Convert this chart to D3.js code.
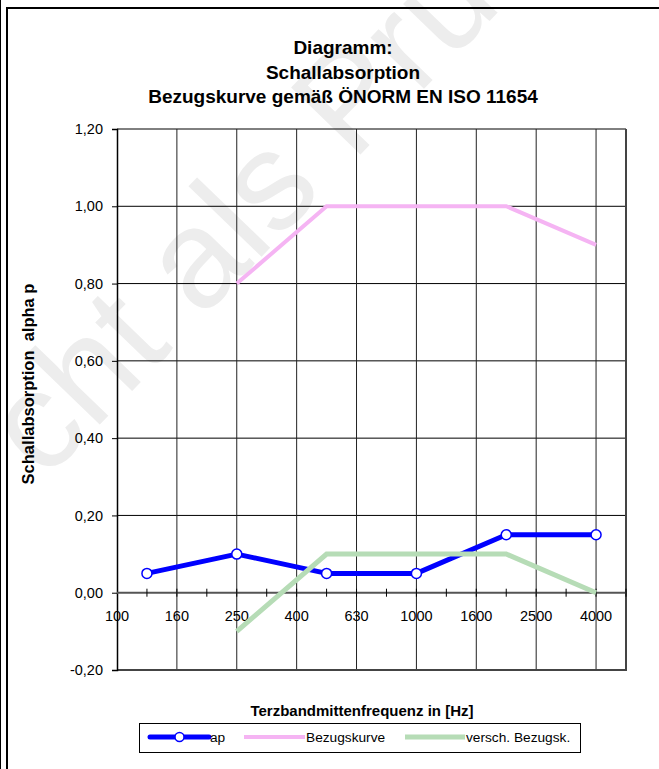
<!DOCTYPE html>
<html><head><meta charset="utf-8">
<script src="https://cdn.jsdelivr.net/npm/d3@7"></script>
<style>
html,body{margin:0;padding:0;background:#fff;}
svg{display:block;font-family:"Liberation Sans",Arial,sans-serif;}
</style></head>
<body>
<svg id="c" width="659" height="769"></svg>
<script>
const bands = [100,125,160,200,250,315,400,500,630,800,1000,1250,1600,2000,2500,3150,4000,5000];
const labelBands = [100,160,250,400,630,1000,1600,2500,4000];
const yTicks = [-0.2,0,0.2,0.4,0.6,0.8,1.0,1.2];
const apFreq = [125,250,500,1000,2000,4000];
const apVal = [0.05,0.10,0.05,0.05,0.15,0.15];
const refFreq = [250,500,1000,2000,4000];
const refVal = [0.80,1.00,1.00,1.00,0.90];
const shiftFreq = [250,500,1000,2000,4000];
const shiftVal = [-0.10,0.10,0.10,0.10,0.00];
const titleLines = ["Diagramm:","Schallabsorption","Bezugskurve gemäß ÖNORM EN ISO 11654"];
const seriesNames = ["ap","Bezugskurve","versch. Bezugsk."];

const svg = d3.select("#c");
const L=117,R=626,T=129,B=670;
const x = d3.scalePoint().domain(bands).range([L,R]);
const y = d3.scaleLinear().domain([-0.2,1.2]).range([B,T]);
const fmt = v => d3.format(".2f")(v).replace(".",",").replace("\u2212","-");

// watermark
svg.append("text").attr("transform","translate(274,244) rotate(-46)")
  .attr("text-anchor","middle").attr("font-size",140).attr("fill","#ededed")
  .text("cht als Prü");

// frame
svg.append("path").attr("d","M7,769 V8 H659").attr("fill","none").attr("stroke","#000").attr("stroke-width",2);
svg.append("line").attr("x1",0.5).attr("x2",0.5).attr("y1",0).attr("y2",769).attr("stroke","#000").attr("stroke-width",1);

// title
const tt = svg.append("text").attr("text-anchor","middle").attr("font-weight","bold").attr("font-size",19);
titleLines.forEach((t,i)=>tt.append("tspan").attr("x",343).attr("y",54+i*24.5).text(t));

// horizontal grid
svg.append("g").selectAll("line").data(yTicks.filter(v=>v!==0 && v!==-0.2)).join("line")
  .attr("x1",L).attr("x2",R).attr("y1",d=>y(d)).attr("y2",d=>y(d)).attr("stroke","#000").attr("stroke-width",1);
// vertical grid
svg.append("g").selectAll("line").data(labelBands.slice(1)).join("line")
  .attr("x1",d=>x(d)).attr("x2",d=>x(d)).attr("y1",T).attr("y2",B).attr("stroke","#222").attr("stroke-width",1);
// right & bottom border
svg.append("path").attr("d",`M${R},${T} V${B} H${L}`).attr("fill","none").attr("stroke","#444").attr("stroke-width",2);

// y axis
const ya = svg.append("g").attr("transform",`translate(${L},0)`)
  .call(d3.axisLeft(y).tickValues(yTicks).tickFormat(fmt).tickSize(5).tickPadding(9));
ya.select(".domain").attr("stroke","#000").attr("stroke-width",1.5);
ya.selectAll(".tick line").attr("stroke","#000");
ya.selectAll("text").attr("font-size",14.5).attr("font-family","Liberation Sans, Arial, sans-serif").attr("fill","#000");

// x axis at zero
svg.append("line").attr("x1",L).attr("x2",R).attr("y1",y(0)).attr("y2",y(0)).attr("stroke","#555").attr("stroke-width",2);
svg.append("g").selectAll("line").data(bands.slice(1)).join("line")
  .attr("x1",d=>x(d)).attr("x2",d=>x(d)).attr("y1",y(0)-4).attr("y2",y(0)+4).attr("stroke","#000").attr("stroke-width",1);
svg.append("g").selectAll("text").data(labelBands).join("text")
  .attr("x",d=>x(d)).attr("y",y(0)+28).attr("text-anchor","middle").attr("font-size",14.5).text(d=>d);

// series
const line = d3.line().x(d=>x(d[0])).y(d=>y(d[1]));
const apData = apFreq.map((f,i)=>[f,apVal[i]]);
const refData = refFreq.map((f,i)=>[f,refVal[i]]);
const shData = shiftFreq.map((f,i)=>[f,shiftVal[i]]);
svg.append("path").datum(apData).attr("d",line).attr("fill","none").attr("stroke","#0000ff").attr("stroke-width",5).attr("stroke-linejoin","round");
svg.append("path").datum(refData).attr("d",line).attr("fill","none").attr("stroke","#f5b4f3").attr("stroke-width",4);
svg.append("path").datum(shData).attr("d",line).attr("fill","none").attr("stroke","#b6dcb6").attr("stroke-width",5);
svg.append("g").selectAll("circle").data(apData).join("circle")
  .attr("cx",d=>x(d[0])).attr("cy",d=>y(d[1])).attr("r",5).attr("fill","#fff").attr("stroke","#0000ff").attr("stroke-width",1.5);

// axis titles
svg.append("text").attr("x",362).attr("y",716).attr("text-anchor","middle").attr("font-weight","bold").attr("font-size",15).text("Terzbandmittenfrequenz in [Hz]");
svg.append("text").attr("transform","translate(34,384) rotate(-90)").attr("text-anchor","middle").attr("font-weight","bold").attr("font-size",16.5).attr("xml:space","preserve").style("white-space","pre").text("Schallabsorption  alpha p");

// legend
svg.append("rect").attr("x",139.5).attr("y",723.5).attr("width",441).attr("height",29).attr("fill","#fff").attr("stroke","#000").attr("stroke-width",1);
const lg = [{x1:150,x2:209,c:"#0000ff",w:5,m:true},{x1:244,x2:305,c:"#f5b4f3",w:4},{x1:405,x2:465,c:"#b6dcb6",w:5}];
lg.forEach((d,i)=>{
  svg.append("line").attr("x1",d.x1).attr("x2",d.x2).attr("y1",737).attr("y2",737).attr("stroke",d.c).attr("stroke-width",d.w).attr("stroke-linecap",d.m?"round":"butt");
  if(d.m) svg.append("circle").attr("cx",(d.x1+d.x2)/2).attr("cy",737).attr("r",4.5).attr("fill","#fff").attr("stroke","#0000ff").attr("stroke-width",1.5);
  svg.append("text").attr("x",d.x2+1).attr("y",742).attr("font-size",13.7).text(seriesNames[i]);
});
</script>
</body></html>
